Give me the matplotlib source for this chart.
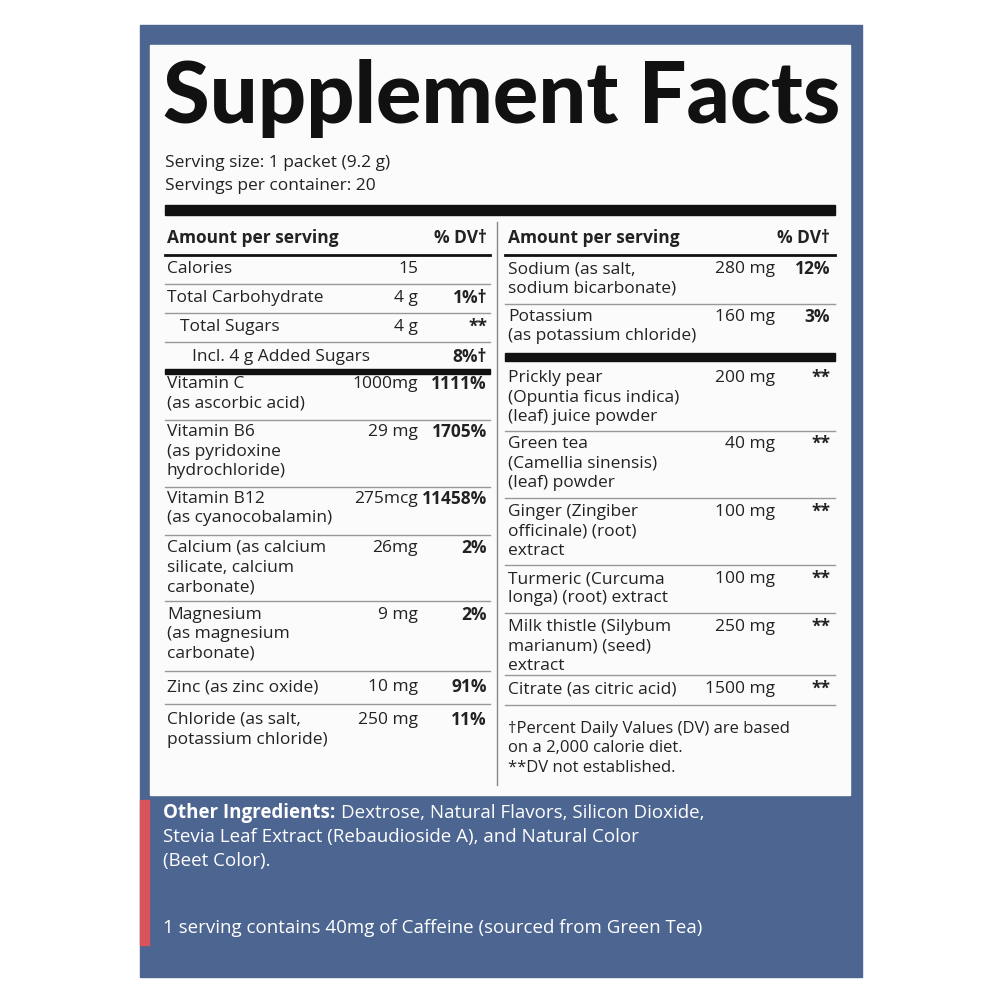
import matplotlib
matplotlib.use("Agg")
import matplotlib.pyplot as plt
from matplotlib.patches import Rectangle

FONT = "Open Sans"
BLUE = "#4c6591"

left_names = ["Calories", "Total Carbohydrate", "Total Sugars", "Incl. 4 g Added Sugars",
              "Vitamin C\n(as ascorbic acid)", "Vitamin B6\n(as pyridoxine\nhydrochloride)",
              "Vitamin B12\n(as cyanocobalamin)", "Calcium (as calcium\nsilicate, calcium\ncarbonate)",
              "Magnesium\n(as magnesium\ncarbonate)", "Zinc (as zinc oxide)",
              "Chloride (as salt,\npotassium chloride)"]
left_amounts = ["15", "4 g", "4 g", "", "1000mg", "29 mg", "275mcg", "26mg", "9 mg", "10 mg", "250 mg"]
left_dv = ["", "1%†", "**", "8%†", "1111%", "1705%", "11458%", "2%", "2%", "91%", "11%"]

right_names = ["Sodium (as salt,\nsodium bicarbonate)", "Potassium\n(as potassium chloride)",
               "Prickly pear\n(Opuntia ficus indica)\n(leaf) juice powder",
               "Green tea\n(Camellia sinensis)\n(leaf) powder",
               "Ginger (Zingiber\nofficinale) (root)\nextract",
               "Turmeric (Curcuma\nlonga) (root) extract",
               "Milk thistle (Silybum\nmarianum) (seed)\nextract",
               "Citrate (as citric acid)"]
right_amounts = ["280 mg", "160 mg", "200 mg", "40 mg", "100 mg", "100 mg", "250 mg", "1500 mg"]
right_dv = ["12%", "3%", "**", "**", "**", "**", "**", "**"]

# layout (pixel space)
left_y = [269, 298, 327, 357, 384, 432, 499, 548, 615, 687, 720]
left_x = [167, 167, 180, 192, 167, 167, 167, 167, 167, 167, 167]
left_lines = [284, 313, 342, 420, 487, 535, 601, 671, 704]
right_y = [269, 317, 378, 444, 512, 579, 627, 689]
right_lines = [304, 431, 498, 565, 613, 675, 705]
LS = 19.5

fig = plt.figure(figsize=(10, 10), dpi=100)
ax = fig.add_axes([0, 0, 1, 1])
ax.set_xlim(0, 1000)
ax.set_ylim(1000, 0)
ax.axis("off")

ax.add_patch(Rectangle((140, 25), 722, 952, color=BLUE))
ax.add_patch(Rectangle((140, 800), 9, 145, color="#d8545a"))
ax.add_patch(Rectangle((150, 45), 700, 750, color="#fbfbfb"))

ax.text(163, 98, "Supplement Facts", fontsize=61, fontweight="black", family="Lato",
        va="center", ha="left", color="#111")
kw = dict(fontsize=12.5, family=FONT, color="#222", va="center")
ax.text(165, 163, "Serving size: 1 packet (9.2 g)", **kw)
ax.text(165, 186, "Servings per container: 20", **kw)
ax.add_patch(Rectangle((165, 205), 670, 10, color="#111"))
ax.plot([497, 497], [222, 785], color="#888", lw=1)


def multiline(x, y, s, **k):
    for i, line in enumerate(s.split("\n")):
        ax.text(x, y + i * LS, line, **k)


ax.text(167, 238, "Amount per serving", fontweight="bold", **kw)
ax.text(487, 238, "% DV†", fontweight="bold", ha="right", **kw)
ax.text(508, 238, "Amount per serving", fontweight="bold", **kw)
ax.text(830, 238, "% DV†", fontweight="bold", ha="right", **kw)
ax.plot([165, 490], [255, 255], color="#111", lw=2)
ax.plot([505, 835], [255, 255], color="#111", lw=2)

for name, amt, dv, x, y in zip(left_names, left_amounts, left_dv, left_x, left_y):
    multiline(x, y, name, **kw)
    ax.text(418, y, amt, ha="right", **kw)
    ax.text(487, y, dv, ha="right", fontweight="bold", **kw)
for y in left_lines:
    ax.plot([165, 490], [y, y], color="#999", lw=1)
ax.add_patch(Rectangle((165, 369), 325, 5, color="#111"))

for name, amt, dv, y in zip(right_names, right_amounts, right_dv, right_y):
    multiline(508, y, name, **kw)
    ax.text(775, y, amt, ha="right", **kw)
    ax.text(830, y, dv, ha="right", fontweight="bold", **kw)
for y in right_lines:
    ax.plot([505, 835], [y, y], color="#999", lw=1)
ax.add_patch(Rectangle((505, 353), 330, 8, color="#111"))

multiline(508, 729, "†Percent Daily Values (DV) are based\non a 2,000 calorie diet.\n**DV not established.",
          **dict(kw, fontsize=12))

wk = dict(fontsize=13.5, family=FONT, color="white", va="center")
t = ax.text(163, 813, "Other Ingredients:", fontweight="bold", **wk)
fig.canvas.draw()
bb = t.get_window_extent().transformed(ax.transData.inverted())
ax.text(max(bb.x0, bb.x1) + 6, 813, "Dextrose, Natural Flavors, Silicon Dioxide,", **wk)
ax.text(163, 837, "Stevia Leaf Extract (Rebaudioside A), and Natural Color", **wk)
ax.text(163, 861, "(Beet Color).", **wk)
ax.text(163, 928, "1 serving contains 40mg of Caffeine (sourced from Green Tea)", **wk)

fig.savefig("out.png", dpi=100, facecolor="white")
